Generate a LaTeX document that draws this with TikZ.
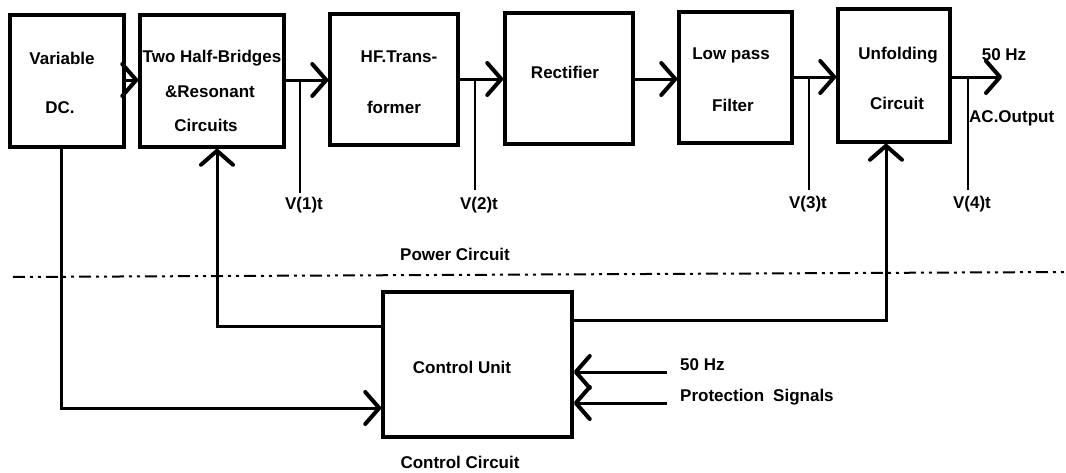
\documentclass[tikz,border=0pt]{standalone}
\usepackage{fontspec}
\setmainfont{Liberation Sans}
\usetikzlibrary{arrows.meta}
\begin{document}
\begin{tikzpicture}[x=1pt,y=-1pt,
  blk/.style={draw,line width=3.5pt,minimum width=#1,inner sep=0pt},
  txt/.style={font=\fontsize{17}{20}\selectfont\bfseries,inner sep=0pt},
  conn/.style={line width=3pt,-{Straight Barb[length=14pt,width=32pt,line width=4pt,round]}},
  wire/.style={line width=3pt},
  tap/.style={line width=1.6pt},
  sep/.style={line width=2pt,dash pattern=on 12pt off 5pt on 3pt off 5pt on 3pt off 5pt}
]
\useasboundingbox (0,0) rectangle (1066,472);
% power blocks
\node[blk=114pt,minimum height=132pt] (var) at (67,81) {};
\node[blk=144pt,minimum height=132pt] (hb) at (212,81) {};
\node[blk=128pt,minimum height=131pt] (hf) at (394,79.5) {};
\node[blk=128pt,minimum height=131pt] (rect) at (569,78.5) {};
\node[blk=113pt,minimum height=131pt] (lpf) at (735.5,77.5) {};
\node[blk=112pt,minimum height=133pt] (unf) at (894,75.5) {};
\node[blk=189pt,minimum height=145pt] (cu) at (477.5,364.5) {};
% block texts
\node[txt] (t1a) at (62,58) {Variable};
\node[txt] (t1b) at (60,108) {DC.};
\node[txt] (t2a) at (212,58) {Two Half-Bridges};
\node[txt] (t2b) at (210,92) {\&Resonant};
\node[txt] (t2c) at (206,125) {Circuits};
\node[txt] (t3a) at (399,57) {HF.Trans-};
\node[txt] (t3b) at (394,107) {former};
\node[txt] (t4) at (565,72) {Rectifier};
\node[txt] (t5a) at (731,55) {Low pass};
\node[txt] (t5b) at (733,105) {Filter};
\node[txt] (t6a) at (898,55) {Unfolding};
\node[txt] (t6b) at (897,103) {Circuit};
\node[txt] (t7) at (462,367) {Control Unit};
% forward chain
\draw[conn] (var.east |- 0,80) -- (hb.west |- 0,80);
\draw[conn] (hb.east |- 0,80) -- (hf.west |- 0,80);
\draw[conn] (hf.east |- 0,79) -- (rect.west |- 0,79);
\draw[conn] (rect.east |- 0,79) -- (lpf.west |- 0,79);
\draw[conn] (lpf.east |- 0,77) -- (unf.west |- 0,77);
\coordinate (out) at (1002,77);
\draw[conn] (unf.east |- out) -- (out);
\node[txt] (hz1) at (1004,55) {50 Hz};
\node[txt,anchor=west] (aco) at (969,118) {AC.Output};
% taps
\coordinate (v1) at (300,193);
\coordinate (v2) at (475,190);
\coordinate (v3) at (809,190);
\coordinate (v4) at (968,190);
\draw[tap] (v1 |- 0,80) -- (v1);
\draw[tap] (v2 |- 0,79) -- (v2);
\draw[tap] (v3 |- 0,77) -- (v3);
\draw[tap] (v4 |- 0,77) -- (v4);
\node[txt] (lv1) at (304,205) {V(1)t};
\node[txt] (lv2) at (479,205) {V(2)t};
\node[txt] (lv3) at (808,204) {V(3)t};
\node[txt] (lv4) at (972,204) {V(4)t};
% separator
\coordinate (s1) at (13,277);
\coordinate (s2) at (1066,272);
\draw[sep] (s1) -- (s2);
\node[txt] (pc) at (455,254) {Power Circuit};
\node[txt] (cc) at (460,462) {Control Circuit};
% control connections
\coordinate (d1) at (61,408);
\draw[conn] (d1 |- var.south) -- (d1) -- (d1 -| cu.west);
\coordinate (f1) at (217,326);
\draw[conn] (cu.west |- f1) -- (f1) -- (f1 |- hb.south);
\coordinate (u1) at (886,320);
\draw[conn] (cu.east |- u1) -- (u1) -- (u1 |- unf.south);
\coordinate (i1) at (667,372);
\coordinate (i2) at (667,403);
\draw[conn] (i1) -- (i1 -| cu.east);
\draw[conn] (i2) -- (i2 -| cu.east);
\node[txt,anchor=west] (hz2) at (680,365) {50 Hz};
\node[txt,anchor=west] (ps) at (680,397) {Protection\hspace{0.25em} Signals};
\end{tikzpicture}
\end{document}
